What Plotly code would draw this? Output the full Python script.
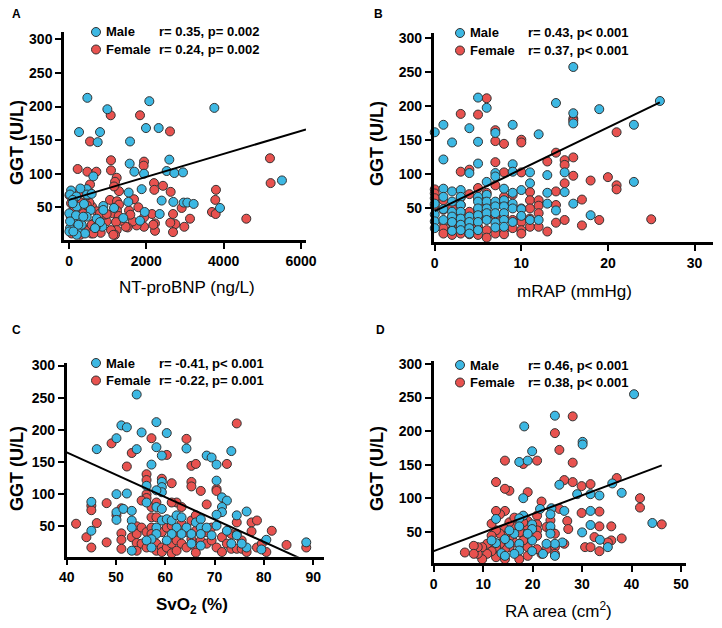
import plotly.graph_objects as go

# ---------------- DATA ----------------
# Panel A: NT-proBNP (ng/L) vs GGT (U/L)
a_male_x = [474, 2077, 3759, 992, 259, 802, 741, 1991, 2319, 1578, 2595, 1569, 1690, 1940, 2526,
            2724, 2948, 5508, 629, 1879, 1543, 2396, 2698, 2965, 3060, 3224, 3905, 1534, 1957, 2345,
            1836, 1405, 1164, 888, 862, 690, 457, 293, 465, 586, 52, 26, 190, 95, 198,
            388, 560, 457, 716, 284, 78, 155, 26, 9, 224, 328, 802, 414, 198,
            95, 5, 181, 370, 26, 241, 112, 672, 887]
a_male_y = [213, 208, 198, 196, 162, 162, 147, 168, 168, 148, 121, 115, 103, 100, 104,
            101, 102, 90, 96, 77, 72, 60, 58, 57, 57, 55, 49, 58, 43, 40,
            30, 34, 49, 52, 21, 20, 77, 78, 69, 70, 75, 69, 66, 61, 51,
            55, 46, 36, 33, 31, 30, 21, 19, 14, 16, 24, 28, 11, 9,
            56, 41, 38, 36, 29, 24, 14, 19, 46]
a_fem_x = [1078, 1836, 2612, 543, 224, 474, 707, 1086, 1940, 1931, 1086, 1233, 1190, 543, 2198,
           2431, 2207, 2629, 5198, 5215, 3801, 3784, 3698, 3793, 4586, 3129, 2982, 2914, 2690, 2750,
           2620, 2690, 2224, 2224, 2146, 1940, 1940, 1750, 1647, 1681, 1793, 1517, 1466, 1293, 1164,
           1060, 1241, 1293, 1241, 1129, 1284, 1552, 1586, 1336, 1215, 1233, 1086, 1190, 974, 931,
           819, 646, 474, 595, 328, 216, 526, 276, 293, 371, 129, 43, 155, 371, 491,
           578, 293, 69, 52, 112, 716, 802, 974, 483, 198, 629,
           10, 155, 458, 587, 284, 1146, 2180]
a_fem_y = [187, 187, 163, 148, 107, 103, 103, 120, 118, 112, 105, 94, 88, 84, 86,
           82, 76, 73, 123, 86, 76, 61, 43, 40, 33, 33, 21, 49, 40, 25,
           27, 13, 26, 15, 40, 35, 21, 23, 29, 62, 50, 20, 21, 74, 81,
           61, 59, 54, 45, 41, 37, 45, 39, 30, 28, 16, 16, 9, 29, 39,
           12, 26, 44, 51, 57, 45, 57, 71, 34, 41, 39, 36, 29, 19, 15,
           11, 9, 11, 56, 46, 44, 41, 40, 68, 24, 11,
           68, 48, 53, 24, 14, 9, 24]
a_fit_x = [0, 6130]
a_fit_y = [61, 166]

# Panel B: mRAP (mmHg) vs GGT (U/L)
b_male_x = [0, 0, 0, 0, 0,
            1, 1, 1, 1, 1, 1,
            2, 2, 2, 2, 2, 2, 2,
            3, 3, 3, 3, 3, 3, 3,
            4, 4, 4, 4, 4, 4,
            5, 5, 5, 5, 5, 5, 5, 5, 5,
            6, 6, 6, 6, 6, 6, 6,
            7, 7, 7, 7, 7, 7, 7, 7,
            8, 8, 8, 8, 8, 8,
            9, 9, 9, 9, 9, 9, 9,
            10, 10, 10,
            11, 11, 11,
            12, 12,
            13, 13, 13,
            14, 14,
            15, 15,
            16, 16, 16, 16,
            18, 19, 23, 23, 26]
b_male_y = [161, 56, 40, 30, 20,
            172, 121, 78, 66, 48, 32,
            146, 74, 59, 44, 37, 29, 16,
            76, 66, 54, 44, 34, 25, 17,
            167, 101, 37, 29, 20, 12,
            212, 147, 115, 66, 59, 49, 39, 29, 17,
            197, 88, 69, 59, 49, 42, 32,
            160, 101, 96, 59, 52, 42, 28, 21,
            78, 61, 52, 42, 32, 22,
            172, 114, 103, 72, 56, 49, 29,
            76, 48, 38,
            102, 86, 32,
            158, 32,
            98, 72, 56,
            204, 46,
            102, 73,
            257, 189, 174, 56,
            39, 195, 172, 88, 207]
b_fem_x = [0, 0, 0, 0,
           1, 1, 1, 1, 1,
           2, 2, 2, 2, 2,
           3, 3, 3, 3, 3, 3, 3, 3,
           4, 4, 4, 4, 4, 4,
           5, 5, 5, 5, 5, 5, 5,
           6, 6, 6, 6, 6, 6,
           7, 7, 7, 7, 7, 7,
           8, 8, 8, 8, 8, 8, 8,
           9, 9, 9, 9,
           10, 10, 10, 10, 10, 10, 10, 10,
           11, 11, 11, 11, 11,
           12, 12, 12, 12,
           13, 13,
           14, 14, 14, 14,
           15, 15, 15, 15,
           16, 16, 16, 16,
           17, 17, 18, 19, 20, 21, 21, 21, 25]
b_fem_y = [77, 71, 64, 54,
           61, 47, 29, 20, 12,
           49, 37, 27, 17, 10,
           188, 103, 65, 54, 39, 32, 22, 12,
           106, 70, 44, 28, 17, 11,
           187, 79, 62, 47, 37, 22, 10,
           211, 72, 54, 34, 17, 6,
           164, 148, 117, 83, 39, 12,
           144, 102, 66, 56, 37, 17, 11,
           69, 52, 32, 20,
           150, 146, 102, 49, 37, 29, 17, 12,
           73, 61, 49, 34, 22,
           61, 53, 42, 22,
           118, 15,
           131, 74, 54, 28,
           120, 113, 86, 32,
           181, 178, 124, 97,
           62, 24, 90, 32, 95, 161, 83, 77, 33]
b_fit_x = [0, 26]
b_fit_y = [45, 205]

# Panel C: SvO2 (%) vs GGT (U/L)
c_male_x = [54.2, 51.1, 52.2, 50.1, 55.2, 58.2, 60.3, 46.1, 54.2, 58.2, 59.3, 64.3, 68.4, 69.4, 70.4,
            73.4, 57.2, 50.1, 52.2, 56.2, 59.3, 59.3, 59.3, 58.2, 56.2, 70.4, 71.5, 72.5, 71.5, 71.5,
            70.4, 76.5, 74.5, 45.0, 45.0, 50.1, 50.1, 51.5, 53.2, 53.2, 53.2, 53.2, 58.2, 59.3, 58.2,
            58.2, 57.2, 56.2, 59.3, 60.3, 61.3, 62.3, 63.3, 62.3, 64.3, 63.3, 65.3, 66.2, 67.2, 67.2,
            67.2, 67.2, 68.4, 69.4, 70.4, 72.5, 73.4, 74.5, 76.5, 75.5, 80.5, 79.5, 88.6, 61.3, 60.3,
            65.3, 57.2]
c_male_y = [255, 207, 204, 187, 196, 212, 195, 170, 170, 173, 160, 171, 160, 157, 146,
            167, 146, 100, 101, 113, 119, 111, 103, 106, 87, 121, 95, 90, 80, 72,
            68, 73, 67, 88, 43, 72, 60, 77, 74, 59, 48, 12, 80, 77, 48,
            38, 30, 28, 59, 61, 59, 67, 64, 48, 48, 38, 38, 56, 61, 48,
            38, 20, 48, 36, 51, 43, 23, 36, 17, 23, 29, 14, 25, 38, 28,
            23, 17]
c_fem_x = [49.1, 53.2, 57.2, 60.3, 52.2, 56.2, 56.2, 59.3, 61.3, 64.3, 65.3, 66.2, 65.3, 65.3, 67.2,
           70.4, 70.4, 72.5, 74.5, 68.4, 56.2, 56.2, 55.2, 57.2, 58.2, 62.3, 63.3, 61.3, 48.1, 51.1,
           45.0, 45.0, 41.9, 44.0, 46.1, 48.1, 45.0, 50.1, 51.1, 51.1, 51.1, 53.2, 54.2, 54.2, 54.2,
           54.2, 55.2, 55.2, 56.2, 56.2, 57.2, 57.2, 57.2, 58.2, 58.2, 58.2, 59.3, 59.3, 59.3, 60.3,
           60.3, 61.3, 61.3, 61.3, 62.3, 62.3, 62.3, 63.3, 63.3, 64.3, 64.3, 65.3, 65.3, 66.2, 66.2,
           66.2, 66.2, 67.2, 68.4, 68.4, 69.4, 69.4, 70.4, 71.5, 71.5, 72.5, 73.4, 73.4, 74.5, 74.5,
           74.5, 75.5, 75.5, 76.5, 77.5, 77.5, 78.6, 78.6, 79.6, 80.5, 81.6, 84.6, 88.6]
c_fem_y = [179, 164, 187, 161, 143, 131, 122, 124, 117, 186, 144, 147, 119, 112, 105,
           108, 105, 147, 210, 84, 100, 94, 90, 80, 87, 87, 80, 87, 86, 78,
           82, 75, 54, 33, 55, 25, 17, 67, 39, 29, 15, 33, 50, 38, 24,
           12, 48, 23, 41, 17, 64, 48, 38, 64, 23, 12, 41, 17, 10, 48,
           17, 51, 23, 8, 38, 28, 12, 54, 23, 41, 17, 59, 30, 67, 43,
           17, 9, 28, 41, 23, 48, 28, 17, 10, 33, 23, 38, 15, 56, 38,
           15, 28, 15, 10, 56, 42, 59, 17, 23, 10, 43, 21, 17]
c_fit_x = [40, 87.4]
c_fit_y = [165, 0]

# Panel D: RA area (cm2) vs GGT (U/L)
d_male_x = [40.5, 24.5, 18.3, 19.9, 17.3, 19.0, 30.1, 30.1, 18.1, 25.4, 29.0, 31.7, 33.5, 36.1, 38.0,
            44.2, 30.0, 31.7, 31.7, 33.6, 35.2, 23.8, 26.4, 26.0, 24.5, 24.5, 23.6, 23.6, 23.6, 22.8,
            22.1, 19.9, 19.9, 19.9, 19.9, 21.5, 18.1, 17.3, 17.3, 16.3, 17.3, 17.3, 15.3, 15.3, 14.4,
            13.7, 12.6, 12.6, 11.7, 19.0, 16.3, 14.4]
d_male_y = [255, 223, 207, 170, 154, 156, 184, 180, 100, 120, 106, 106, 104, 122, 108,
            63, 49, 60, 81, 38, 27, 85, 81, 34, 32, 14, 76, 58, 47, 32,
            17, 61, 54, 37, 21, 84, 74, 70, 58, 47, 32, 22, 52, 32, 39,
            18, 69, 33, 37, 47, 17, 14]
d_fem_x = [28.1, 24.5, 25.4, 28.1, 18.1, 20.9, 14.4, 15.3, 14.4, 12.6, 19.0, 26.4, 28.1, 29.9, 31.7,
           37.0, 41.7, 41.7, 46.1, 29.9, 33.5, 35.9, 33.5, 35.9, 38.0, 32.5, 30.6, 31.7, 33.5, 35.2,
           26.4, 27.0, 27.2, 25.4, 23.6, 22.8, 23.6, 24.5, 24.5, 24.5, 22.8, 21.8, 20.9, 20.9, 20.9,
           20.9, 20.9, 21.8, 19.0, 19.0, 19.0, 19.0, 19.0, 18.1, 18.1, 18.1, 17.3, 17.3, 16.3, 16.3,
           15.3, 15.3, 15.3, 14.4, 14.4, 14.4, 14.4, 14.4, 13.4, 13.4, 13.4, 13.4, 12.6, 12.6, 12.6,
           12.6, 11.7, 11.7, 11.7, 10.8, 10.8, 9.8, 9.8, 8.9, 8.9, 8.1, 8.1, 6.3, 16.3]
d_fem_y = [222, 197, 172, 153, 151, 156, 156, 111, 114, 124, 109, 127, 124, 118, 121,
           130, 100, 86, 61, 78, 80, 58, 58, 37, 40, 42, 27, 27, 21, 34,
           32, 66, 54, 84, 67, 57, 53, 47, 27, 17, 24, 17, 74, 61, 52,
           44, 24, 95, 66, 57, 41, 27, 14, 64, 47, 37, 49, 9, 57, 34,
           64, 42, 27, 81, 54, 44, 24, 9, 76, 47, 32, 17, 81, 52, 27,
           12, 62, 44, 21, 17, 32, 27, 9, 17, 27, 29, 17, 19, 71]
d_fit_x = [0, 46.1]
d_fit_y = [21, 149]

# Legend / statistics text
male_stats = ["r= 0.35, p= 0.002", "r= 0.43, p< 0.001", "r= -0.41, p< 0.001", "r= 0.46, p< 0.001"]
fem_stats = ["r= 0.24, p= 0.002", "r= 0.37, p< 0.001", "r= -0.22, p= 0.001", "r= 0.38, p< 0.001"]
x_titles = ["NT-proBNP (ng/L)", "mRAP (mmHg)", "SvO<sub>2</sub> (%)", "RA area (cm<sup>2</sup>)"]
panel_letters = ["A", "B", "C", "D"]
x_tickvals = [[0, 2000, 4000, 6000], [0, 10, 20, 30], [40, 50, 60, 70, 80, 90], [0, 10, 20, 30, 40, 50]]
y_tickvals = [50, 100, 150, 200, 250, 300]

# ---------------- STYLE / LAYOUT ----------------
PAGE_OFF = 8            # default body margin of the html page
W, H = 722 - PAGE_OFF, 628 - PAGE_OFF
MALE_C = "#3DB8E3"
FEM_C = "#E8524F"
EDGE = "#333333"
FONT = "Arial, Liberation Sans, sans-serif"


def px(x):
    return (x - PAGE_OFF) / W


def py(y):
    return 1 - (y - PAGE_OFF) / H


# plot-area boxes in window pixels: (left, right, top, bottom)
boxes = [(64, 306, 32, 240), (433.7, 712.7, 33, 242), (66.7, 324, 363, 556.7), (433.7, 686, 360.7, 563.3)]
x_ranges = [[-130, 6130], [-0.12, 32.1], [40, 92.2], [0, 51]]
y_ranges = [[1.3, 311], [-0.4, 307], [2.7, 304], [2.9, 305]]
x_title_pos = [(187, 287), (574, 292), (192, 606), (558, 610)]
x_title_bold = [False, False, True, False]
y_title_pos = [(17, 143), (377, 144), (17, 469), (377, 469)]
letter_pos = [(16, 14), (378, 14), (16, 330), (380, 330)]
legend_pos = [(96, 32), (460, 33), (96, 363), (460, 365)]
stats_x = [157, 526, 157, 526]

data = [
    (a_male_x, a_male_y, a_fem_x, a_fem_y, a_fit_x, a_fit_y),
    (b_male_x, b_male_y, b_fem_x, b_fem_y, b_fit_x, b_fit_y),
    (c_male_x, c_male_y, c_fem_x, c_fem_y, c_fit_x, c_fit_y),
    (d_male_x, d_male_y, d_fem_x, d_fem_y, d_fit_x, d_fit_y),
]

fig = go.Figure()
layout = dict(
    width=W, height=H,
    margin=dict(l=0, r=0, t=0, b=0, pad=0, autoexpand=False),
    paper_bgcolor="white", plot_bgcolor="white",
    showlegend=False,
    font=dict(family=FONT, color="black"),
)

annotations = []
shapes = []

for i, (mx, my, fx, fy, lx, ly) in enumerate(data):
    n = "" if i == 0 else str(i + 1)
    xa, ya = "x" + n, "y" + n
    marker_f = dict(size=9, color=FEM_C, line=dict(color=EDGE, width=1))
    marker_m = dict(size=9, color=MALE_C, line=dict(color=EDGE, width=1))
    fig.add_trace(go.Scatter(x=fx, y=fy, mode="markers", marker=marker_f, xaxis=xa, yaxis=ya,
                             cliponaxis=False, name="Female"))
    fig.add_trace(go.Scatter(x=mx, y=my, mode="markers", marker=marker_m, xaxis=xa, yaxis=ya,
                             cliponaxis=False, name="Male"))
    fig.add_trace(go.Scatter(x=lx, y=ly, mode="lines", line=dict(color="black", width=2),
                             xaxis=xa, yaxis=ya, hoverinfo="skip"))

    l, r, t, b = boxes[i]
    common = dict(showline=True, linecolor="black", linewidth=2.5, ticks="outside", ticklen=6,
                  tickwidth=2, tickcolor="black", showgrid=False, zeroline=False, automargin=False,
                  tickfont=dict(family=FONT, size=14, color="black", weight="bold"))
    layout["xaxis" + n] = dict(domain=[px(l), min(px(r), 1.0)], anchor=ya, range=x_ranges[i],
                               tickmode="array", tickvals=x_tickvals[i], **common)
    layout["yaxis" + n] = dict(domain=[py(b), py(t)], anchor=xa, range=y_ranges[i],
                               tickmode="array", tickvals=y_tickvals, **common)

    # axis titles
    tx, ty = x_title_pos[i]
    annotations.append(dict(x=px(tx), y=py(ty), xref="paper", yref="paper", showarrow=False,
                            text=("<b>%s</b>" % x_titles[i]) if x_title_bold[i] else x_titles[i],
                            font=dict(family=FONT, size=17, color="black"),
                            xanchor="center", yanchor="middle"))
    vx, vy = y_title_pos[i]
    annotations.append(dict(x=px(vx), y=py(vy), xref="paper", yref="paper", showarrow=False,
                            text="<b>GGT (U/L)</b>", textangle=-90,
                            font=dict(family=FONT, size=18, color="black"),
                            xanchor="center", yanchor="middle"))
    # panel letter
    lx_, ly_ = letter_pos[i]
    annotations.append(dict(x=px(lx_), y=py(ly_), xref="paper", yref="paper", showarrow=False,
                            text="<b>%s</b>" % panel_letters[i],
                            font=dict(family=FONT, size=12, color="black"),
                            xanchor="center", yanchor="middle"))
    # legend
    cx, cy = legend_pos[i]
    for k, (col, lab, st) in enumerate([(MALE_C, "Male", male_stats[i]), (FEM_C, "Female", fem_stats[i])]):
        yy = cy + k * 17.5
        shapes.append(dict(type="circle", xref="paper", yref="paper",
                           x0=px(cx - 4.5), x1=px(cx + 4.5), y0=py(yy + 4.5), y1=py(yy - 4.5),
                           fillcolor=col, line=dict(color=EDGE, width=1)))
        annotations.append(dict(x=px(cx + 8), y=py(yy), xref="paper", yref="paper", showarrow=False,
                                text="<b>%s</b>" % lab, font=dict(family=FONT, size=13, color="black"),
                                xanchor="left", yanchor="middle"))
        annotations.append(dict(x=px(stats_x[i]), y=py(yy), xref="paper", yref="paper", showarrow=False,
                                text="<b>%s</b>" % st, font=dict(family=FONT, size=13, color="black"),
                                xanchor="left", yanchor="middle"))

layout["annotations"] = annotations
layout["shapes"] = shapes
fig.update_layout(**layout)
fig.write_html("out.html")
